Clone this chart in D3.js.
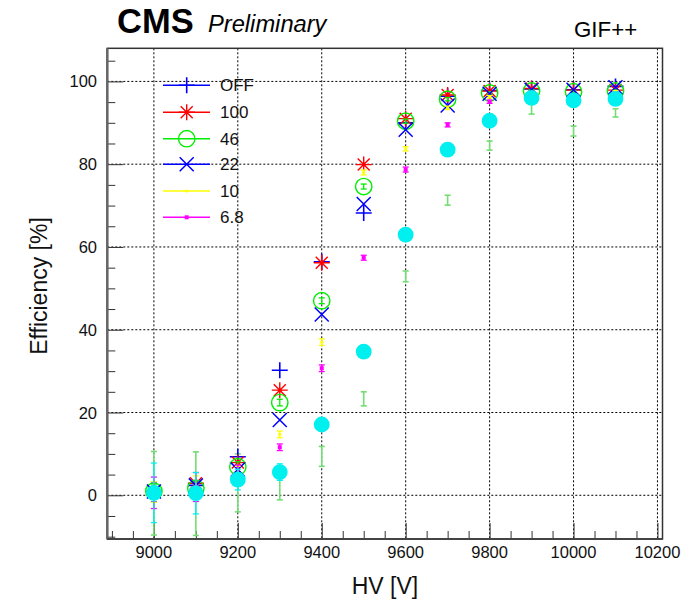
<!DOCTYPE html>
<html>
<head>
<meta charset="utf-8">
<script src="https://cdn.jsdelivr.net/npm/d3@7"></script>
<style>
  body { margin: 0; background: #fff; }
  svg { font-family: "Liberation Sans", Arial, Helvetica, sans-serif; }
</style>
</head>
<body>
<svg id="chart" width="689" height="600"></svg>
<script>
// HV points (V)
const hv = [9000, 9100, 9200, 9300, 9400, 9500, 9600, 9700, 9800, 9900, 10000, 10100];

// efficiency (%) per source attenuation
const effOFF = [0.8, 2.4, 9.3, 30.2, 56.4, 68.2, 90.0, 96.4, 97.8, 98.2, 98.0, 98.8];
const errOFF = [2.4, 1.5, 1.5, 0.8, 0.7, 0.7, 0.5, 0.4, 0.3, 0.3, 0.3, 0.3];
const eff100 = [1.0, 2.9, 7.9, 25.4, 56.2, 79.9, 91.0, 96.7, 97.7, 98.3, 97.9, 97.9];
const err100 = [1.5, 1.5, 1.2, 0.8, 0.7, 0.6, 0.5, 0.4, 0.3, 0.3, 0.3, 0.3];
const eff46 = [1.0, 1.7, 6.9, 22.4, 47.0, 74.6, 90.4, 95.7, 97.2, 97.7, 97.5, 97.7];
const err46 = [1.5, 1.5, 1.2, 0.8, 0.7, 0.6, 0.5, 0.4, 0.3, 0.3, 0.3, 0.3];
const eff22 = [0.9, 2.4, 6.2, 18.2, 43.7, 70.4, 88.3, 94.2, 97.0, 98.0, 98.0, 98.6];
const err22 = [1.5, 1.5, 1.2, 0.8, 0.7, 0.6, 0.5, 0.4, 0.3, 0.3, 0.3, 0.3];
const eff10 = [0.8, 2.2, 5.5, 14.7, 37.0, 78.0, 83.7, 93.6, 96.3, 96.8, 96.6, 97.5];
const err10 = [2.5, 2.5, 1.5, 0.8, 0.8, 0.6, 0.5, 0.4, 0.3, 0.3, 0.3, 0.3];
const eff68 = [0.6, 2.0, 4.8, 11.6, 30.7, 57.4, 78.7, 89.5, 95.1, 96.4, 96.5, 96.8];
const err68 = [3.8, 3.5, 2.5, 0.8, 0.8, 0.6, 0.6, 0.5, 0.4, 0.4, 0.4, 0.4];
// two more runs drawn without legend entries
const effCyan = [0.6, 0.5, 3.8, 5.6, 17.1, 34.7, 63.0, 83.5, 90.5, 96.0, 95.4, 95.8];
const errCyan = [7.2, 5.0, 2.5, 2.0, 1.5, 1.0, 1.0, 0.8, 0.6, 0.5, 0.5, 0.5];
const effLight = [0.5, 0.4, 3.0, 2.9, 9.4, 23.3, 52.9, 71.3, 84.5, 93.3, 88.0, 92.4];
const errLight = [10.1, 10.1, 7.0, 4.0, 2.4, 1.7, 1.3, 1.2, 1.1, 1.2, 1.2, 1.0];

const xTicks = [9000, 9200, 9400, 9600, 9800, 10000, 10200];
const yTicks = [0, 20, 40, 60, 80, 100];
const legendLabels = ['OFF', '100', '46', '22', '10', '6.8'];

let svg = d3.select('#chart'),
  frame = {left: 107.3, right: 662.5, top: 48.3, bottom: 539};

let x = d3.scaleLinear().domain([8889, 10212]).range([frame.left, frame.right]);
let y = d3.scaleLinear().domain([-10.56, 108]).range([frame.bottom, frame.top]);

// grid
let grid = svg.append('g').attr('class', 'grid')
  .attr('stroke', '#000').attr('stroke-width', 1).attr('stroke-dasharray', '2,2');
grid.selectAll('.gx').data(xTicks).enter().append('line')
  .attr('x1', d => x(d)).attr('x2', d => x(d))
  .attr('y1', frame.top).attr('y2', frame.bottom);
grid.selectAll('.gy').data(yTicks).enter().append('line')
  .attr('x1', frame.left).attr('x2', frame.right)
  .attr('y1', d => y(d)).attr('y2', d => y(d));

// axes: ROOT style, ticks inside the frame
let xAxis = d3.axisTop(x).tickValues(d3.range(8900, 10211, 50)).tickFormat('')
  .tickSizeInner(8).tickSizeOuter(0);
let xg = svg.append('g').attr('transform', 'translate(0,' + frame.bottom + ')').call(xAxis);
xg.selectAll('.tick line').attr('y2', d => xTicks.includes(d) ? -16 : -8);
xg.select('.domain').remove();
xg.selectAll('.tick line').attr('stroke', '#333');

let yAxis = d3.axisRight(y).tickValues(d3.range(-10, 106, 5)).tickFormat('')
  .tickSizeInner(8).tickSizeOuter(0);
let yg = svg.append('g').attr('transform', 'translate(' + frame.left + ',0)').call(yAxis);
yg.selectAll('.tick line').attr('x2', d => yTicks.includes(d) ? 16 : 8).attr('stroke', '#333');
yg.select('.domain').remove();

svg.append('rect')
  .attr('x', frame.left).attr('y', frame.top)
  .attr('width', frame.right - frame.left).attr('height', frame.bottom - frame.top)
  .attr('fill', 'none').attr('stroke', '#333').attr('stroke-width', 1.5);
svg.append('line').attr('x1', frame.left).attr('x2', frame.left)
  .attr('y1', frame.top).attr('y2', frame.bottom)
  .attr('stroke', '#666').attr('stroke-width', 2.5);
svg.append('line').attr('x1', frame.left).attr('x2', frame.right)
  .attr('y1', frame.bottom).attr('y2', frame.bottom)
  .attr('stroke', '#444').attr('stroke-width', 2);

// tick labels
svg.append('g').selectAll('text').data(xTicks).enter().append('text')
  .attr('x', d => x(d)).attr('y', 558)
  .attr('text-anchor', 'middle').attr('font-size', 16.5).attr('fill', '#111')
  .text(d => d);
svg.append('g').selectAll('text').data(yTicks).enter().append('text')
  .attr('x', 97).attr('y', d => y(d) + 6)
  .attr('text-anchor', 'end').attr('font-size', 16.5).attr('fill', '#111')
  .text(d => d);

// axis titles
svg.append('text').attr('x', (frame.left + frame.right) / 2).attr('y', 594)
  .attr('text-anchor', 'middle').attr('font-size', 23).attr('fill', '#111')
  .text('HV [V]');
svg.append('text')
  .attr('transform', 'translate(47,' + 286 + ') rotate(-90)')
  .attr('text-anchor', 'middle').attr('font-size', 23).attr('fill', '#111')
  .text('Efficiency [%]');

// header
svg.append('text').attr('x', 117).attr('y', 33)
  .attr('font-size', 34.5).attr('font-weight', 'bold').text('CMS');
svg.append('text').attr('x', 208).attr('y', 32)
  .attr('font-size', 23.7).attr('font-style', 'italic').text('Preliminary');
svg.append('text').attr('x', 574).attr('y', 37)
  .attr('font-size', 22.3).text('GIF++');

// marker drawers
function drawMarker(g, type, color) {
  if (type === 'plus') {
    g.append('path').attr('d', 'M-8,0H8M0,-8V8').attr('stroke', color).attr('stroke-width', 1.6);
  } else if (type === 'star') {
    g.append('path').attr('d', 'M-8,0H8M0,-8V8M-6,-6L6,6M-6,6L6,-6')
      .attr('stroke', color).attr('stroke-width', 1.4);
    g.append('circle').attr('r', 1.8).attr('fill', color);
  } else if (type === 'circle') {
    g.append('circle').attr('r', 8.2).attr('fill', 'none').attr('stroke', color).attr('stroke-width', 1.4);
  } else if (type === 'cross') {
    g.append('path').attr('d', 'M-7,-7L7,7M-7,7L7,-7').attr('stroke', color).attr('stroke-width', 1.5);
  } else if (type === 'dot') {
    g.append('circle').attr('r', 1.6).attr('fill', color);
  } else if (type === 'square') {
    g.append('rect').attr('x', -2).attr('y', -2).attr('width', 4).attr('height', 4).attr('fill', color);
  } else if (type === 'disc') {
    g.append('circle').attr('r', 7.9).attr('fill', color);
  }
}

// big markers hide error bars shorter than themselves
const bigMarkers = ['plus', 'star', 'cross'];

const series = [
  {vals: effLight, errs: errLight, color: '#74dd74', marker: null, errWidth: 1.6},
  {vals: effOFF, errs: errOFF, color: '#0000ff', marker: 'plus', label: legendLabels[0]},
  {vals: eff100, errs: err100, color: '#ff0000', marker: 'star', label: legendLabels[1]},
  {vals: eff46, errs: err46, color: '#00ee00', marker: 'circle', label: legendLabels[2]},
  {vals: eff22, errs: err22, color: '#0000ff', marker: 'cross', label: legendLabels[3]},
  {vals: eff10, errs: err10, color: '#ffff00', marker: 'dot', label: legendLabels[4]},
  {vals: eff68, errs: err68, color: '#ff00ff', marker: 'square', label: legendLabels[5]},
  {vals: effCyan, errs: errCyan, color: '#00f0f0', marker: 'disc'}
];

let plot = svg.append('g').attr('class', 'points');
series.forEach(s => {
  let g = plot.append('g');
  hv.forEach((h, i) => {
    let cx = x(h), v = s.vals[i], e = s.errs[i];
    let halfPx = y(v - e) - y(v);
    if (!(bigMarkers.includes(s.marker) && halfPx < 7)) {
      let eb = g.append('g').attr('stroke', s.color).attr('stroke-width', s.errWidth || 1.3);
      eb.append('line').attr('x1', cx).attr('x2', cx).attr('y1', y(v - e)).attr('y2', y(v + e));
      eb.append('line').attr('x1', cx - 3).attr('x2', cx + 3).attr('y1', y(v - e)).attr('y2', y(v - e));
      eb.append('line').attr('x1', cx - 3).attr('x2', cx + 3).attr('y1', y(v + e)).attr('y2', y(v + e));
    }
    if (s.marker) {
      drawMarker(g.append('g').attr('transform', 'translate(' + cx + ',' + y(v) + ')'), s.marker, s.color);
    }
  });
});

// legend
let legendRows = [85.3, 112.3, 138.7, 164.3, 191, 217.3];
let legend = svg.append('g').attr('class', 'legend');
series.filter(s => s.label).forEach((s, i) => {
  let row = legend.append('g').attr('transform', 'translate(0,' + legendRows[i] + ')');
  row.append('line').attr('x1', 163).attr('x2', 210).attr('stroke', s.color).attr('stroke-width', 1.6);
  drawMarker(row.append('g').attr('transform', 'translate(186.7,0)'), s.marker, s.color);
  row.append('text').attr('x', 220).attr('y', 6).attr('font-size', 17).attr('fill', '#111').text(s.label);
});
</script>
</body>
</html>
